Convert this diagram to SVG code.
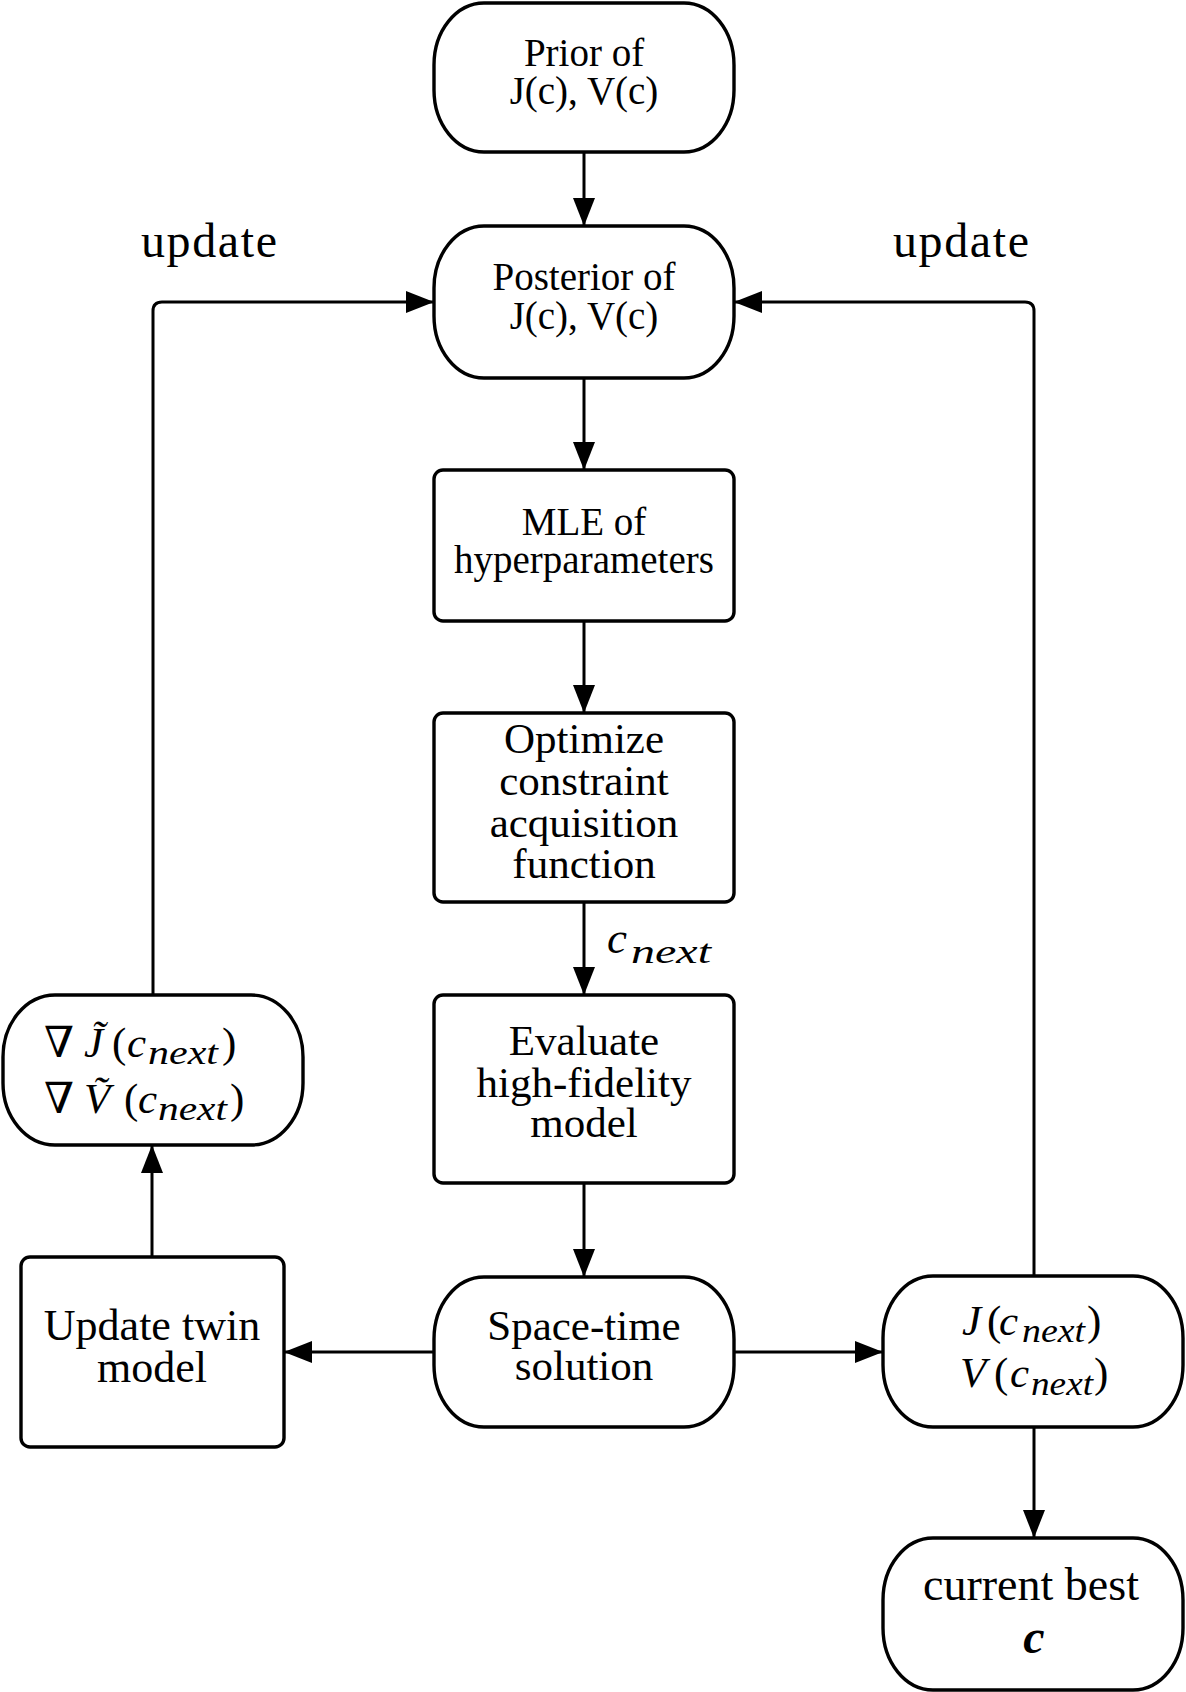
<svg xmlns="http://www.w3.org/2000/svg" width="1186" height="1692" viewBox="0 0 1186 1692">
<style>
.node{fill:#fff;stroke:#000;stroke-width:3.4}
.edge{fill:none;stroke:#000;stroke-width:3}
text{font-family:"Liberation Serif","DejaVu Serif",serif;fill:#000}
.t{font-size:39px;text-anchor:middle}
.b{font-size:43px;text-anchor:middle}
.m{font-size:43px}
.i{font-style:italic}
.s{font-size:33px;font-style:italic}
.lbl{font-size:48px;text-anchor:middle}
</style>
<defs>
<marker id="arr" markerUnits="userSpaceOnUse" markerWidth="28" markerHeight="22" refX="28" refY="11" orient="auto">
<path d="M0,0 L28,11 L0,22 Z" fill="#000"/>
</marker>
</defs>
<rect width="1186" height="1692" fill="#fff"/>

<g id="connectors">
<path class="edge" d="M584,152 V226" marker-end="url(#arr)"/>
<path class="edge" d="M584,378 V470" marker-end="url(#arr)"/>
<path class="edge" d="M584,621 V713" marker-end="url(#arr)"/>
<path class="edge" d="M584,902 V995" marker-end="url(#arr)"/>
<path class="edge" d="M584,1183 V1277" marker-end="url(#arr)"/>
<path class="edge" d="M434,1352 H284" marker-end="url(#arr)"/>
<path class="edge" d="M734,1352 H883" marker-end="url(#arr)"/>
<path class="edge" d="M1034,1427 V1538" marker-end="url(#arr)"/>
<path class="edge" d="M152,1257 V1145" marker-end="url(#arr)"/>
<path class="edge" d="M153,995 V311 Q153,302 162,302 H434" marker-end="url(#arr)"/>
<path class="edge" d="M1034,1276 V311 Q1034,302 1025,302 H734" marker-end="url(#arr)"/>
<text class="lbl" x="209" y="257" textLength="136">update</text>
<text class="lbl" x="961" y="257" textLength="136">update</text>
<text class="m i" y="953"><tspan x="607" style="font-size:45px">c</tspan><tspan class="s" x="631" y="963" textLength="80" lengthAdjust="spacingAndGlyphs">next</tspan></text>
</g>

<g id="prior">
<path class="node" d="M484,3 H684 A50,62 0 0 1 734,65 V90 A50,62 0 0 1 684,152 H484 A50,62 0 0 1 434,90 V65 A50,62 0 0 1 484,3 Z"/>
<text class="t"><tspan x="584" y="66">Prior of</tspan><tspan x="584" y="104">J(c), V(c)</tspan></text>
</g>

<g id="posterior">
<path class="node" d="M484,226 H684 A50,62 0 0 1 734,288 V316 A50,62 0 0 1 684,378 H484 A50,62 0 0 1 434,316 V288 A50,62 0 0 1 484,226 Z"/>
<text class="t"><tspan x="584" y="290">Posterior of</tspan><tspan x="584" y="329">J(c), V(c)</tspan></text>
</g>

<g id="mle">
<rect class="node" x="434" y="470" width="300" height="151" rx="9"/>
<text class="t"><tspan x="584" y="535">MLE of</tspan><tspan x="584" y="573">hyperparameters</tspan></text>
</g>

<g id="optimize">
<rect class="node" x="434" y="713" width="300" height="189" rx="9"/>
<text class="b"><tspan x="584" y="753">Optimize</tspan><tspan x="584" y="795">constraint</tspan><tspan x="584" y="837">acquisition</tspan><tspan x="584" y="878">function</tspan></text>
</g>

<g id="evaluate">
<rect class="node" x="434" y="995" width="300" height="188" rx="9"/>
<text class="b"><tspan x="584" y="1055">Evaluate</tspan><tspan x="584" y="1097">high-fidelity</tspan><tspan x="584" y="1137">model</tspan></text>
</g>

<g id="spacetime">
<path class="node" d="M484,1277 H684 A50,62 0 0 1 734,1339 V1365 A50,62 0 0 1 684,1427 H484 A50,62 0 0 1 434,1365 V1339 A50,62 0 0 1 484,1277 Z"/>
<text class="b"><tspan x="584" y="1340">Space-time</tspan><tspan x="584" y="1380">solution</tspan></text>
</g>

<g id="update-twin">
<rect class="node" x="21" y="1257" width="263" height="190" rx="9"/>
<text class="b" style="font-size:44px"><tspan x="152" y="1340">Update twin</tspan><tspan x="152" y="1382">model</tspan></text>
</g>

<g id="gradients">
<path class="node" d="M55,995 H251 A52,62 0 0 1 303,1057 V1083 A52,62 0 0 1 251,1145 H55 A52,62 0 0 1 3,1083 V1057 A52,62 0 0 1 55,995 Z"/>
<text class="m"><tspan x="44" y="1057">∇</tspan><tspan class="i" x="84">J&#x303;</tspan><tspan x="112">(</tspan><tspan class="i" x="127">c</tspan><tspan class="s" x="148" y="1064" textLength="70" lengthAdjust="spacingAndGlyphs">next</tspan><tspan x="222" y="1057">)</tspan><tspan x="44" y="1113">∇</tspan><tspan class="i" x="84">V&#x303;</tspan><tspan x="124">(</tspan><tspan class="i" x="138">c</tspan><tspan class="s" x="158" y="1120" textLength="69" lengthAdjust="spacingAndGlyphs">next</tspan><tspan x="230" y="1113">)</tspan></text>
</g>

<g id="j-v-next">
<path class="node" d="M933,1276 H1133 A50,62 0 0 1 1183,1338 V1365 A50,62 0 0 1 1133,1427 H933 A50,62 0 0 1 883,1365 V1338 A50,62 0 0 1 933,1276 Z"/>
<text class="m"><tspan class="i" x="962" y="1335">J</tspan><tspan x="987">(</tspan><tspan class="i" x="999">c</tspan><tspan class="s" x="1022" y="1342" textLength="63" lengthAdjust="spacingAndGlyphs">next</tspan><tspan x="1087" y="1335">)</tspan><tspan class="i" x="960" y="1387">V</tspan><tspan x="994">(</tspan><tspan class="i" x="1010">c</tspan><tspan class="s" x="1031" y="1395" textLength="62" lengthAdjust="spacingAndGlyphs">next</tspan><tspan x="1094" y="1387">)</tspan></text>
</g>

<g id="current-best">
<path class="node" d="M933,1538 H1133 A50,62 0 0 1 1183,1600 V1628 A50,62 0 0 1 1133,1690 H933 A50,62 0 0 1 883,1628 V1600 A50,62 0 0 1 933,1538 Z"/>
<text style="font-size:46px;text-anchor:middle"><tspan x="1031" y="1600">current best</tspan><tspan x="1034" y="1653" style="font-size:48px;font-style:italic;font-weight:bold">c</tspan></text>
</g>
</svg>
